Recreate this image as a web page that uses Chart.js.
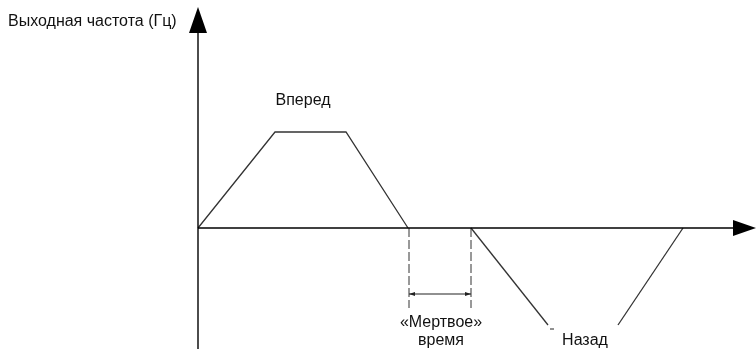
<!DOCTYPE html>
<html><head><meta charset="utf-8">
<script src="https://cdn.jsdelivr.net/npm/chart.js@4"></script>
<style>html,body{margin:0;padding:0;background:#fff}canvas{display:block}</style>
</head><body>
<canvas id="c" width="756" height="349"></canvas>
<script>
// Time units (t) and output frequency units (f)
const forwardT = [0, 7.7, 14.8, 21.0];
const forwardF = [0, 48, 48, 0];
const reverseDownT = [27.3, 35.0];
const reverseDownF = [0, -48.5];
const reverseUpT = [42.0, 48.5];
const reverseUpF = [-48.5, 0];
const deadStartT = 21.1;
const deadEndT = 27.3;
const deadLowF = -40;
const deadDimF = -33;
const xAxisEndT = 53.5, xArrowTipT = 55.8;
const yAxisLowF = -60.5, yAxisEndF = 97.5, yArrowTipF = 110.5;
const labels = [
  {text: 'Выходная частота (Гц)', t: -19.0, f: 103, align: 'left'},
  {text: 'Вперед', t: 10.5, f: 63.5, align: 'center'},
  {text: '«Мертвое»', t: 24.3, f: -47.5, align: 'center'},
  {text: 'время', t: 24.3, f: -56.5, align: 'center'},
  {text: 'Назад', t: 38.7, f: -56.5, align: 'center'}
];

const pts = (ts, fs) => ts.map((t, i) => ({x: t, y: fs[i]}));
const lineDs = (data, color, width, dash) => ({
  data, borderColor: color, borderWidth: width, borderDash: dash || [],
  showLine: true, pointRadius: 0, fill: false, tension: 0
});

const arrowPlugin = {
  id: 'arrows',
  afterDatasetsDraw(chart) {
    const ctx = chart.ctx, xs = chart.scales.x, ys = chart.scales.y;
    const X = v => xs.getPixelForValue(v), Y = v => ys.getPixelForValue(v);
    ctx.save();
    ctx.fillStyle = '#000';
    // x axis arrow
    ctx.beginPath();
    ctx.moveTo(X(xArrowTipT), Y(0));
    ctx.lineTo(X(xAxisEndT), Y(0) - 8);
    ctx.lineTo(X(xAxisEndT), Y(0) + 8);
    ctx.closePath(); ctx.fill();
    // y axis arrow
    ctx.beginPath();
    ctx.moveTo(X(0), Y(yArrowTipF));
    ctx.lineTo(X(0) - 9, Y(yAxisEndF));
    ctx.lineTo(X(0) + 9, Y(yAxisEndF));
    ctx.closePath(); ctx.fill();
    // dimension arrows
    const yd = Y(deadDimF);
    ctx.fillStyle = '#222';
    [[X(deadStartT), 1], [X(deadEndT), -1]].forEach(([px, dir]) => {
      ctx.beginPath();
      ctx.moveTo(px, yd);
      ctx.lineTo(px + dir * 6, yd - 2);
      ctx.lineTo(px + dir * 6, yd + 2);
      ctx.closePath(); ctx.fill();
    });
    // small tick near the end of reverse ramp
    ctx.strokeStyle = '#222'; ctx.lineWidth = 1;
    ctx.beginPath();
    ctx.moveTo(X(35.2), Y(-50.5)); ctx.lineTo(X(35.6), Y(-50.5));
    ctx.stroke();
    // labels
    ctx.fillStyle = '#111';
    ctx.font = '16px "Liberation Sans", Arial, sans-serif';
    ctx.textBaseline = 'middle';
    labels.forEach(l => {
      ctx.textAlign = l.align;
      ctx.fillText(l.text, X(l.t), Y(l.f));
    });
    ctx.restore();
  }
};

new Chart(document.getElementById('c'), {
  type: 'scatter',
  data: {
    datasets: [
      lineDs([{x: 0, y: 0}, {x: xAxisEndT, y: 0}], '#000', 1.4),
      lineDs([{x: 0, y: yAxisLowF}, {x: 0, y: yAxisEndF}], '#000', 1.4),
      lineDs(pts(forwardT, forwardF), '#333', 1.3),
      lineDs(pts(reverseDownT, reverseDownF), '#333', 1.3),
      lineDs(pts(reverseUpT, reverseUpF), '#333', 1.3),
      lineDs([{x: deadStartT, y: 0}, {x: deadStartT, y: deadLowF}], '#333', 1, [9, 3]),
      lineDs([{x: deadEndT, y: 0}, {x: deadEndT, y: deadLowF}], '#333', 1, [9, 3]),
      lineDs([{x: deadStartT, y: deadDimF}, {x: deadEndT, y: deadDimF}], '#222', 1.2)
    ]
  },
  options: {
    responsive: false,
    animation: false,
    devicePixelRatio: 1,
    layout: {padding: 0},
    plugins: {legend: {display: false}, tooltip: {enabled: false}, title: {display: false}},
    scales: {
      x: {type: 'linear', min: -19.8, max: 55.8, display: false},
      y: {type: 'linear', min: -60.5, max: 114, display: false}
    }
  },
  plugins: [arrowPlugin]
});
</script>
</body></html>
